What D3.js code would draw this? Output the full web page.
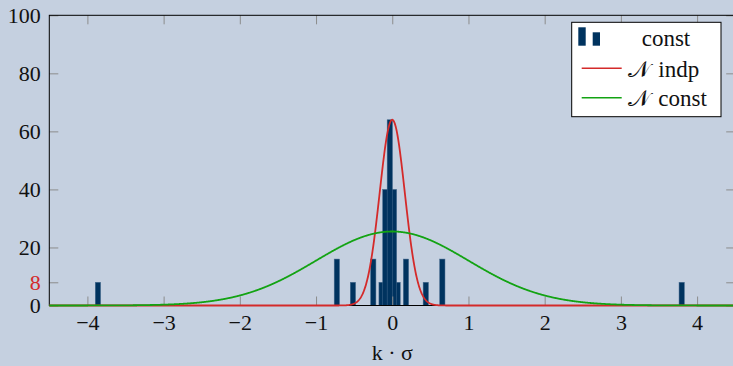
<!DOCTYPE html>
<html>
<head>
<meta charset="utf-8">
<script src="https://cdn.jsdelivr.net/npm/d3@7"></script>
<style>
  html, body { margin: 0; padding: 0; background: #c5d0e0; }
  svg { display: block; }
</style>
</head>
<body>
<svg id="chart" width="733" height="366"></svg>
<script>
// ---- data ----
const xTicks = [-4, -3, -2, -1, 0, 1, 2, 3, 4];
const yTicks = [0, 8, 20, 40, 60, 80, 100];
const highlightTick = 8;
const barCenters = [-3.862, -0.727, -0.516, -0.249, -0.140, -0.091, -0.032, 0.023, 0.070, 0.180, 0.440, 0.657, 3.798];
const barCounts  = [8, 16, 8, 16, 8, 40, 64, 40, 8, 16, 8, 16, 8];
const curveNames  = ["indp", "const"];
const curveMeans  = [0, 0];
const curveSigmas = [0.165, 1.0];
const curvePeaks  = [64, 25.5];
const barLegendName = "const";
const xLabel = "k · σ";

// ---- styles ----
const W = 733, H = 366;
const FONT = '"Liberation Serif", "DejaVu Serif", serif';
const bg = "#c5d0e0";
const barColor = "#00335f";
const barEdge = "#456a8e";
const curveColors = ["#d42a2a", "#13a313"];
const tickGray = "#8c8c8c";
const fontSize = 22;

const svg = d3.select("#chart");
svg.append("rect").attr("width", W).attr("height", H).attr("fill", bg);

const x = d3.scaleLinear().domain([-4.5, 4.5]).range([49.3, 735.2]);
const y = d3.scaleLinear().domain([0, 100]).range([305.5, 15.3]);

// bars (shorter drawn first)
const bars = barCenters.map((c, i) => ({ c, v: barCounts[i] }))
  .sort((a, b) => a.v - b.v);
const bw = 5.3;
svg.append("g").selectAll("rect").data(bars).join("rect")
  .attr("x", d => x(d.c) - bw / 2)
  .attr("width", bw)
  .attr("y", d => y(d.v))
  .attr("height", d => y(0) - y(d.v))
  .attr("fill", barColor)
  .attr("stroke", barEdge)
  .attr("stroke-width", 0.5);

// axes with ticks
const xAxisB = d3.axisBottom(x).tickValues(xTicks).tickSize(-9).tickPadding(9);
const gxb = svg.append("g").attr("transform", `translate(0,${y(0)})`).call(xAxisB);
const xAxisT = d3.axisTop(x).tickValues(xTicks).tickSize(-9).tickFormat("");
const gxt = svg.append("g").attr("transform", `translate(0,${y(100)})`).call(xAxisT);
const yAxisL = d3.axisLeft(y).tickValues(yTicks).tickSize(-9).tickPadding(8.6);
const gyl = svg.append("g").attr("transform", `translate(${x(-4.5)},0)`).call(yAxisL);
const yAxisR = d3.axisRight(y).tickValues(yTicks).tickSize(-9).tickFormat("");
const gyr = svg.append("g").attr("transform", `translate(${x(4.5)},0)`).call(yAxisR);

[gxb, gxt, gyl, gyr].forEach(g => {
  g.select(".domain").remove();
  g.selectAll(".tick line").attr("stroke", tickGray).attr("stroke-width", 1);
  g.selectAll(".tick text")
    .attr("font-family", FONT)
    .attr("font-size", fontSize)
    .attr("fill", "#111");
});
gyl.selectAll(".tick text").filter(d => d === highlightTick).attr("fill", "#d42a2a");

// frame
svg.append("rect")
  .attr("x", x(-4.5)).attr("y", y(100))
  .attr("width", x(4.5) - x(-4.5)).attr("height", y(0) - y(100))
  .attr("fill", "none").attr("stroke", "#000").attr("stroke-width", 1);

// curves
const xs = d3.range(-4.5, 4.5001, 0.005);
const line = d3.line().x(d => x(d[0])).y(d => y(d[1]));
curveNames.forEach((name, i) => {
  const pts = xs.map(t => [t, curvePeaks[i] * Math.exp(-((t - curveMeans[i]) ** 2) / (2 * curveSigmas[i] ** 2))]);
  svg.append("path").datum(pts)
    .attr("d", line)
    .attr("fill", "none")
    .attr("stroke", curveColors[i])
    .attr("stroke-width", 1.8);
});

// x label
svg.append("text")
  .attr("x", x(0)).attr("y", 360)
  .attr("text-anchor", "middle")
  .attr("font-family", FONT)
  .attr("font-size", fontSize)
  .attr("fill", "#111")
  .text(xLabel);

// legend
const lg = svg.append("g");
lg.append("rect")
  .attr("x", 571.7).attr("y", 22.3).attr("width", 149.3).attr("height", 94.4)
  .attr("fill", "#fff").attr("stroke", "#000").attr("stroke-width", 1);
lg.append("rect").attr("x", 578.3).attr("y", 27.3).attr("width", 7.4).attr("height", 18.4).attr("fill", barColor);
lg.append("rect").attr("x", 592.7).attr("y", 32.3).attr("width", 7.3).attr("height", 13.4).attr("fill", barColor);
lg.append("text").attr("x", 641.7).attr("y", 46)
  .attr("font-family", FONT).attr("font-size", 23).attr("fill", "#111").text(barLegendName);
const legendRows = [68.3, 97.7];
curveNames.forEach((name, i) => {
  lg.append("line")
    .attr("x1", 581.7).attr("x2", 621.7)
    .attr("y1", legendRows[i]).attr("y2", legendRows[i])
    .attr("stroke", curveColors[i]).attr("stroke-width", 1.5);
  const t = lg.append("text").attr("x", 628.3).attr("y", legendRows[i] + 8.5)
    .attr("font-family", FONT).attr("font-size", 23).attr("fill", "#111");
  t.append("tspan").text("𝒩");
  t.append("tspan").attr("dx", 8).text(name);
});
</script>
</body>
</html>
